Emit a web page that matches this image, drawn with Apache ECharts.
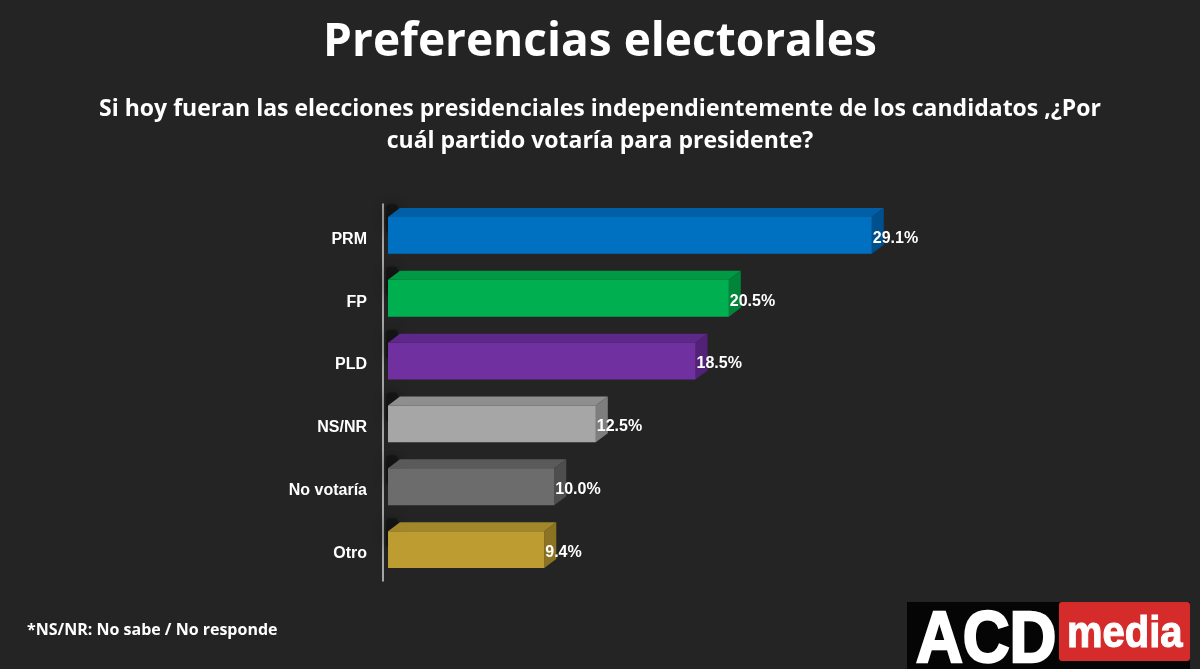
<!DOCTYPE html>
<html>
<head>
<meta charset="utf-8">
<script src="https://cdn.jsdelivr.net/npm/echarts@6/dist/echarts.min.js"></script>
<style>
html,body{margin:0;padding:0;background:#242424;}
#chart{width:1200px;height:669px;}
</style>
</head>
<body>
<div id="chart"></div>
<script>
const categories = ['PRM', 'FP', 'PLD', 'NS/NR', 'No votaría', 'Otro'];
const values = [29.1, 20.5, 18.5, 12.5, 10.0, 9.4];
const frontColors = ['#0070C0', '#00B050', '#7030A0', '#A6A6A6', '#6C6C6C', '#BD9D32'];
const topColors   = ['#005FA6', '#009A45', '#5E278A', '#8E8E8E', '#5A5A5A', '#A2862A'];
const sideColors  = ['#00508E', '#00853B', '#522178', '#7E7E7E', '#4E4E4E', '#8C7324'];

const chart = echarts.init(document.getElementById('chart'));
const FONT = '"Open Sans", "Liberation Sans", sans-serif';
const ARIAL = '"Liberation Sans", Arial, sans-serif';

chart.setOption({
  backgroundColor: '#242424',
  animation: false,
  title: {
    text: 'Preferencias electorales',
    left: 'center', top: 15,
    textStyle: {color: '#ffffff', fontSize: 46, fontWeight: 'bold', fontFamily: FONT}
  },
  grid: {left: 388, right: 147, top: 204, height: 377},
  xAxis: {type: 'value', min: 0, max: 40, show: false},
  yAxis: {
    type: 'category',
    data: categories,
    inverse: true,
    offset: 5,
    axisLine: {show: true, onZero: false, lineStyle: {color: '#d0d0d0', width: 1.5}},
    axisTick: {show: false},
    axisLabel: {color: '#ffffff', fontSize: 16, fontWeight: 'bold', fontFamily: ARIAL, margin: 16,
                verticalAlign: 'top', lineHeight: 8}
  },
  series: [{
    type: 'custom',
    data: values.map((v, i) => [v, i]),
    encode: {x: 0, y: 1},
    renderItem: function (params, api) {
      const v = api.value(0);
      const ci = api.value(1);
      const p0 = api.coord([0, ci]);
      const p1 = api.coord([v, ci]);
      const bh = api.size([0, 1])[1] * 0.585;
      const dx = 12, dy = 9;
      const x0 = p0[0], x1 = p1[0];
      const yT = p0[1] - bh / 2, yB = p0[1] + bh / 2;
      const i = params.dataIndex;
      return {
        type: 'group',
        children: [
          {
            type: 'rect',
            shape: {x: x0 - 2, y: yT - dy - 4, width: 12, height: bh * 0.8, r: 4},
            style: {fill: 'rgba(12,12,12,0.55)', shadowBlur: 12, shadowColor: 'rgba(0,0,0,0.7)'}
          },
          {
            type: 'polygon',
            shape: {points: [[x0, yT], [x0 + dx, yT - dy], [x1 + dx, yT - dy], [x1, yT]]},
            style: {fill: topColors[i]}
          },
          {
            type: 'polygon',
            shape: {points: [[x1, yT], [x1 + dx, yT - dy], [x1 + dx, yB - dy], [x1, yB]]},
            style: {fill: sideColors[i]}
          },
          {
            type: 'rect',
            shape: {x: x0, y: yT, width: x1 - x0, height: bh},
            style: {fill: frontColors[i]}
          },
          {
            type: 'text',
            style: {
              text: v.toFixed(1) + '%',
              x: x1 + 1, y: p0[1] + 3,
              verticalAlign: 'middle',
              fill: '#ffffff', fontSize: 16, fontWeight: 'bold', fontFamily: ARIAL
            }
          }
        ]
      };
    }
  }],
  graphic: [
    {
      type: 'text', x: 600, y: 93,
      style: {
        text: 'Si hoy fueran las elecciones presidenciales independientemente de los candidatos ,¿Por\ncuál partido votaría para presidente?',
        align: 'center', lineHeight: 32,
        fill: '#ffffff', fontSize: 23, fontWeight: 'bold', fontFamily: FONT
      }
    },
    {
      type: 'text', left: 27, top: 622,
      style: {text: '*NS/NR: No sabe / No responde', fill: '#ffffff', fontSize: 16, fontWeight: 'bold', fontFamily: FONT}
    },
    {
      type: 'rect', left: 907, top: 602,
      shape: {width: 283, height: 67},
      style: {fill: '#050505'}
    },
    {
      type: 'rect', left: 1059, top: 602,
      shape: {width: 131, height: 59, r: 3},
      style: {fill: '#D62B2B'}
    },
    {
      type: 'text', x: 916, y: 606, scaleX: 0.9,
      style: {text: 'ACD', fill: '#ffffff', stroke: '#ffffff', lineWidth: 2.5, fontSize: 72, fontWeight: 900, fontFamily: ARIAL}
    },
    {
      type: 'text', x: 1067, y: 612, scaleY: 1.12,
      style: {text: 'media', fill: '#ffffff', stroke: '#ffffff', lineWidth: 1, fontSize: 40, fontWeight: 'bold', fontFamily: ARIAL}
    }
  ]
});
</script>
</body>
</html>
